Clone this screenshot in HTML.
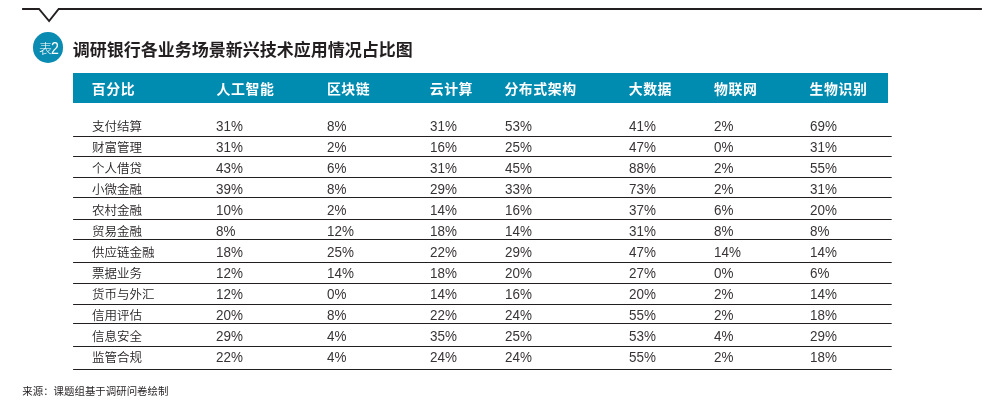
<!DOCTYPE html>
<html lang="zh-CN"><head><meta charset="utf-8"><title>表2 调研银行各业务场景新兴技术应用情况占比图</title>
<style>
html,body{margin:0;padding:0;background:#fff;}
body{width:988px;height:402px;position:relative;overflow:hidden;
font-family:"Liberation Sans","Noto Sans CJK SC",sans-serif;color:#231f20;}
.abs{position:absolute;white-space:nowrap;}
#rules{position:absolute;left:0;top:0;}
#badge{position:absolute;left:33px;top:32.3px;width:30.4px;height:30.4px;border-radius:50%;background:#0a8bb2;color:#fff;
font-size:13px;line-height:30.4px;text-align:center;font-weight:300;white-space:nowrap;}
#badge span{position:absolute;top:0;line-height:30.4px;}
#badge .b1{left:5.9px;top:1.6px;font-size:13px;}
#badge .b2{left:18.2px;top:0.9px;font-size:16.4px;font-weight:400;transform:scaleX(0.86);transform-origin:0 50%;}
#title{left:72.8px;top:37.5px;font-size:17px;line-height:26px;font-weight:700;color:#231f20;}
#thead{position:absolute;left:73px;top:73px;width:814.8px;height:29.8px;background:#008bb1;}
.th{position:absolute;top:1px;line-height:30px;font-size:13.9px;font-weight:700;color:#fff;white-space:nowrap;letter-spacing:0.55px;}
.c{position:absolute;line-height:20px;height:20px;font-size:12.5px;font-weight:350;white-space:nowrap;}
.n{position:absolute;line-height:20px;height:20px;font-size:15.2px;font-weight:400;white-space:nowrap;color:#383435;transform:scaleX(0.885);transform-origin:0 50%;}
#src{left:22.3px;top:385.2px;font-size:10.45px;line-height:14px;font-weight:400;}
#wrap{position:absolute;left:0;top:0;width:988px;height:402px;will-change:transform;}
</style></head><body><div id="wrap">
<svg id="rules" width="988" height="402" viewBox="0 0 988 402">
<polyline points="22.1,9 39.0,9 49.1,21.1 58.7,9 981.9,9" fill="none" stroke="#231f20" stroke-width="1.9" stroke-linejoin="miter"/>
<g stroke="#231f20" stroke-width="1">
<line x1="73.1" y1="136.5" x2="891.7" y2="136.5"/>
<line x1="73.1" y1="156.5" x2="891.7" y2="156.5"/>
<line x1="73.1" y1="177.5" x2="891.7" y2="177.5"/>
<line x1="73.1" y1="197.5" x2="891.7" y2="197.5"/>
<line x1="73.1" y1="219.5" x2="891.7" y2="219.5"/>
<line x1="73.1" y1="239.5" x2="891.7" y2="239.5"/>
<line x1="73.1" y1="262.5" x2="891.7" y2="262.5"/>
<line x1="73.1" y1="283.5" x2="891.7" y2="283.5"/>
<line x1="73.1" y1="304.5" x2="891.7" y2="304.5"/>
<line x1="73.1" y1="323.5" x2="891.7" y2="323.5"/>
<line x1="73.1" y1="346.5" x2="891.7" y2="346.5"/>
<line x1="73.1" y1="369.5" x2="891.7" y2="369.5"/>
</g></svg>
<div id="badge"><span class="b1">表</span><span class="b2">2</span></div>
<div id="title" class="abs">调研银行各业务场景新兴技术应用情况占比图</div>
<div id="thead">
<span class="th" style="left:18.8px">百分比</span>
<span class="th" style="left:143.6px">人工智能</span>
<span class="th" style="left:253.9px">区块链</span>
<span class="th" style="left:356.7px">云计算</span>
<span class="th" style="left:431.4px">分布式架构</span>
<span class="th" style="left:555.7px">大数据</span>
<span class="th" style="left:641.0px">物联网</span>
<span class="th" style="left:736.6px">生物识别</span>
</div>
<div id="tbody">
<span class="c" style="left:92.0px;top:117.10px">支付结算</span>
<span class="n" style="left:216.4px;top:116.20px">31%</span>
<span class="n" style="left:327px;top:116.20px">8%</span>
<span class="n" style="left:430px;top:116.20px">31%</span>
<span class="n" style="left:504.6px;top:116.20px">53%</span>
<span class="n" style="left:628.7px;top:116.20px">41%</span>
<span class="n" style="left:714px;top:116.20px">2%</span>
<span class="n" style="left:809.8px;top:116.20px">69%</span>
<span class="c" style="left:92.0px;top:138.06px">财富管理</span>
<span class="n" style="left:216.4px;top:137.16px">31%</span>
<span class="n" style="left:327px;top:137.16px">2%</span>
<span class="n" style="left:430px;top:137.16px">16%</span>
<span class="n" style="left:504.6px;top:137.16px">25%</span>
<span class="n" style="left:628.7px;top:137.16px">47%</span>
<span class="n" style="left:714px;top:137.16px">0%</span>
<span class="n" style="left:809.8px;top:137.16px">31%</span>
<span class="c" style="left:92.0px;top:159.02px">个人借贷</span>
<span class="n" style="left:216.4px;top:158.12px">43%</span>
<span class="n" style="left:327px;top:158.12px">6%</span>
<span class="n" style="left:430px;top:158.12px">31%</span>
<span class="n" style="left:504.6px;top:158.12px">45%</span>
<span class="n" style="left:628.7px;top:158.12px">88%</span>
<span class="n" style="left:714px;top:158.12px">2%</span>
<span class="n" style="left:809.8px;top:158.12px">55%</span>
<span class="c" style="left:92.0px;top:179.98px">小微金融</span>
<span class="n" style="left:216.4px;top:179.08px">39%</span>
<span class="n" style="left:327px;top:179.08px">8%</span>
<span class="n" style="left:430px;top:179.08px">29%</span>
<span class="n" style="left:504.6px;top:179.08px">33%</span>
<span class="n" style="left:628.7px;top:179.08px">73%</span>
<span class="n" style="left:714px;top:179.08px">2%</span>
<span class="n" style="left:809.8px;top:179.08px">31%</span>
<span class="c" style="left:92.0px;top:200.94px">农村金融</span>
<span class="n" style="left:216.4px;top:200.04px">10%</span>
<span class="n" style="left:327px;top:200.04px">2%</span>
<span class="n" style="left:430px;top:200.04px">14%</span>
<span class="n" style="left:504.6px;top:200.04px">16%</span>
<span class="n" style="left:628.7px;top:200.04px">37%</span>
<span class="n" style="left:714px;top:200.04px">6%</span>
<span class="n" style="left:809.8px;top:200.04px">20%</span>
<span class="c" style="left:92.0px;top:221.90px">贸易金融</span>
<span class="n" style="left:216.4px;top:221.00px">8%</span>
<span class="n" style="left:327px;top:221.00px">12%</span>
<span class="n" style="left:430px;top:221.00px">18%</span>
<span class="n" style="left:504.6px;top:221.00px">14%</span>
<span class="n" style="left:628.7px;top:221.00px">31%</span>
<span class="n" style="left:714px;top:221.00px">8%</span>
<span class="n" style="left:809.8px;top:221.00px">8%</span>
<span class="c" style="left:92.0px;top:242.86px">供应链金融</span>
<span class="n" style="left:216.4px;top:241.96px">18%</span>
<span class="n" style="left:327px;top:241.96px">25%</span>
<span class="n" style="left:430px;top:241.96px">22%</span>
<span class="n" style="left:504.6px;top:241.96px">29%</span>
<span class="n" style="left:628.7px;top:241.96px">47%</span>
<span class="n" style="left:714px;top:241.96px">14%</span>
<span class="n" style="left:809.8px;top:241.96px">14%</span>
<span class="c" style="left:92.0px;top:263.82px">票据业务</span>
<span class="n" style="left:216.4px;top:262.92px">12%</span>
<span class="n" style="left:327px;top:262.92px">14%</span>
<span class="n" style="left:430px;top:262.92px">18%</span>
<span class="n" style="left:504.6px;top:262.92px">20%</span>
<span class="n" style="left:628.7px;top:262.92px">27%</span>
<span class="n" style="left:714px;top:262.92px">0%</span>
<span class="n" style="left:809.8px;top:262.92px">6%</span>
<span class="c" style="left:92.0px;top:284.78px">货币与外汇</span>
<span class="n" style="left:216.4px;top:283.88px">12%</span>
<span class="n" style="left:327px;top:283.88px">0%</span>
<span class="n" style="left:430px;top:283.88px">14%</span>
<span class="n" style="left:504.6px;top:283.88px">16%</span>
<span class="n" style="left:628.7px;top:283.88px">20%</span>
<span class="n" style="left:714px;top:283.88px">2%</span>
<span class="n" style="left:809.8px;top:283.88px">14%</span>
<span class="c" style="left:92.0px;top:305.74px">信用评估</span>
<span class="n" style="left:216.4px;top:304.84px">20%</span>
<span class="n" style="left:327px;top:304.84px">8%</span>
<span class="n" style="left:430px;top:304.84px">22%</span>
<span class="n" style="left:504.6px;top:304.84px">24%</span>
<span class="n" style="left:628.7px;top:304.84px">55%</span>
<span class="n" style="left:714px;top:304.84px">2%</span>
<span class="n" style="left:809.8px;top:304.84px">18%</span>
<span class="c" style="left:92.0px;top:326.70px">信息安全</span>
<span class="n" style="left:216.4px;top:325.80px">29%</span>
<span class="n" style="left:327px;top:325.80px">4%</span>
<span class="n" style="left:430px;top:325.80px">35%</span>
<span class="n" style="left:504.6px;top:325.80px">25%</span>
<span class="n" style="left:628.7px;top:325.80px">53%</span>
<span class="n" style="left:714px;top:325.80px">4%</span>
<span class="n" style="left:809.8px;top:325.80px">29%</span>
<span class="c" style="left:92.0px;top:347.66px">监管合规</span>
<span class="n" style="left:216.4px;top:346.76px">22%</span>
<span class="n" style="left:327px;top:346.76px">4%</span>
<span class="n" style="left:430px;top:346.76px">24%</span>
<span class="n" style="left:504.6px;top:346.76px">24%</span>
<span class="n" style="left:628.7px;top:346.76px">55%</span>
<span class="n" style="left:714px;top:346.76px">2%</span>
<span class="n" style="left:809.8px;top:346.76px">18%</span>
</div>
<div id="src" class="abs">来源：课题组基于调研问卷绘制</div>
</div></body></html>
